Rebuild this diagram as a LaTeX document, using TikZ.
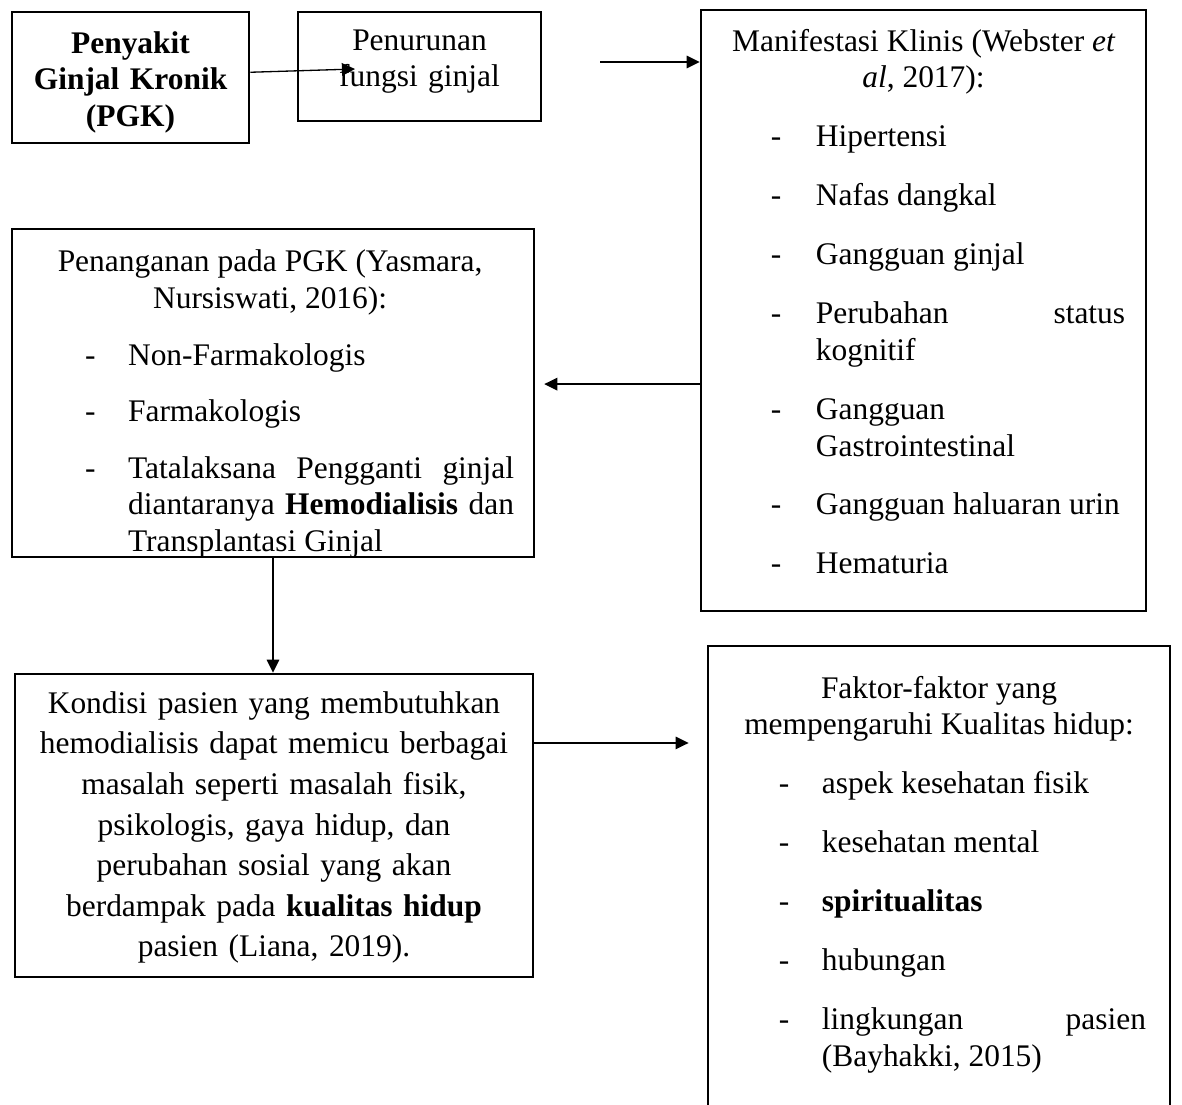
\documentclass[tikz,border=0pt]{standalone}
\usepackage{fontspec}
\setmainfont{Liberation Serif}
\usetikzlibrary{positioning,arrows.meta}

\newlength\dashx
\newlength\textx
\newcommand\itm[1]{\par\hangindent=\textx\hangafter=1\noindent\makebox[\textx][l]{\hspace{\dashx}-}#1\par}

\begin{document}
\begin{tikzpicture}[
    x=0.3816pt,y=-0.3816pt,
    box/.style={rectangle,draw,line width=1pt,inner sep=0pt},
    txt/.style={inner sep=0pt,align=justify,text width=#1,
      execute at begin node={\setlength\parindent{0pt}\tolerance=10000\hyphenpenalty=10000}},
    lst/.style n args={4}{txt=#1,
      execute at begin node={\setlength\dashx{#2}\setlength\textx{#3}\setlength\parskip{#4}}},
    arr/.style={-{Triangle[length=5pt,width=4.8pt]},line width=0.5pt},
    font=\fontsize{12}{14}\selectfont
    ]
    \useasboundingbox (0,0) rectangle (1182,1104);

    % boxes
    \node (pgk) [box,minimum width=90.44pt,minimum height=49.99pt] at (130.5,77.5) {};
    \node (turun) [box,minimum width=92.73pt,minimum height=41.59pt] at (419.5,66.5) {};
    \node (klinis) [box,minimum width=169.81pt,minimum height=229.34pt] at (923.5,310.5) {};
    \node (tangan) [box,minimum width=199.2pt,minimum height=125.16pt] at (273,393) {};
    \node (kondisi) [box,minimum width=197.67pt,minimum height=115.62pt] at (274,825.5) {};
    \node (faktor) [box,minimum width=176.3pt,minimum height=178.97pt] at (939,880.5) {};

    % texts
    \node (pgk-t) [txt=85pt,align=center,font=\fontsize{12}{14}\selectfont\bfseries,
      below=6.2pt of pgk.north] {\strut Penyakit\\ Ginjal Kronik\\ (PGK)};
    \node (turun-t) [txt=85pt,align=center,below=5.1pt of turun.north]
      {\strut Penurunan\\ fungsi ginjal};
    \node (klinis-t) [lst={153.9pt}{18.7pt}{35.9pt}{8.5pt},below=6.2pt of klinis.north] {%
      {\centering\strut Manifestasi Klinis (Webster \textit{et al}, 2017):\par}
      \itm{Hipertensi}
      \itm{Nafas dangkal}
      \itm{Gangguan ginjal}
      \itm{Perubahan status kognitif}
      \itm{Gangguan Gastrointestinal}
      \itm{Gangguan haluaran urin}
      \itm{Hematuria}};
    \node (tangan-t) [lst={186.2pt}{22.5pt}{38.9pt}{7.6pt},below=6.8pt of tangan.north,xshift=-1.1pt] {%
      {\centering\strut Penanganan pada PGK (Yasmara, Nursiswati, 2016):\par}
      \itm{Non-Farmakologis}
      \itm{Farmakologis}
      \itm{Tatalaksana Pengganti ginjal diantaranya \textbf{Hemodialisis} dan Transplantasi Ginjal}};
    \node (kondisi-t) [txt=195pt,align=center,font=\fontsize{12}{15.5}\selectfont,
      below=4.4pt of kondisi.north] {\strut Kondisi pasien yang membutuhkan\\
      hemodialisis dapat memicu berbagai\\ masalah seperti masalah fisik,\\
      psikologis, gaya hidup, dan\\ perubahan sosial yang akan\\
      berdampak pada \textbf{kualitas hidup}\\ pasien (Liana, 2019).};
    \node (faktor-t) [lst={158pt}{17.9pt}{34.3pt}{8.5pt},below=10.4pt of faktor.north] {%
      {\centering\strut Faktor-faktor yang mempengaruhi Kualitas hidup:\par}
      \itm{aspek kesehatan fisik}
      \itm{kesehatan mental}
      \itm{\textbf{spiritualitas}}
      \itm{hubungan}
      \itm{lingkungan pasien (Bayhakki, 2015)}};

    % arrows
    \coordinate (a1) at (355,69);
    \coordinate (a2) at (600,62);
    \coordinate (a3) at ([yshift=3.4pt]tangan.east);
    \coordinate (a5) at ([yshift=31.5pt]kondisi.east);

    \draw[arr] ([yshift=2pt]pgk.east) -- (a1);
    \draw[arr] (a2) -- (a2 -| klinis.west);
    \draw[arr] (a3 -| klinis.west) -- ([xshift=3.4pt]a3);
    \draw[arr] (tangan.south) -- (tangan.south |- kondisi.north);
    \draw[arr,shorten >=6.9pt] (a5) -- (a5 -| faktor.west);

  \end{tikzpicture}
\end{document}
